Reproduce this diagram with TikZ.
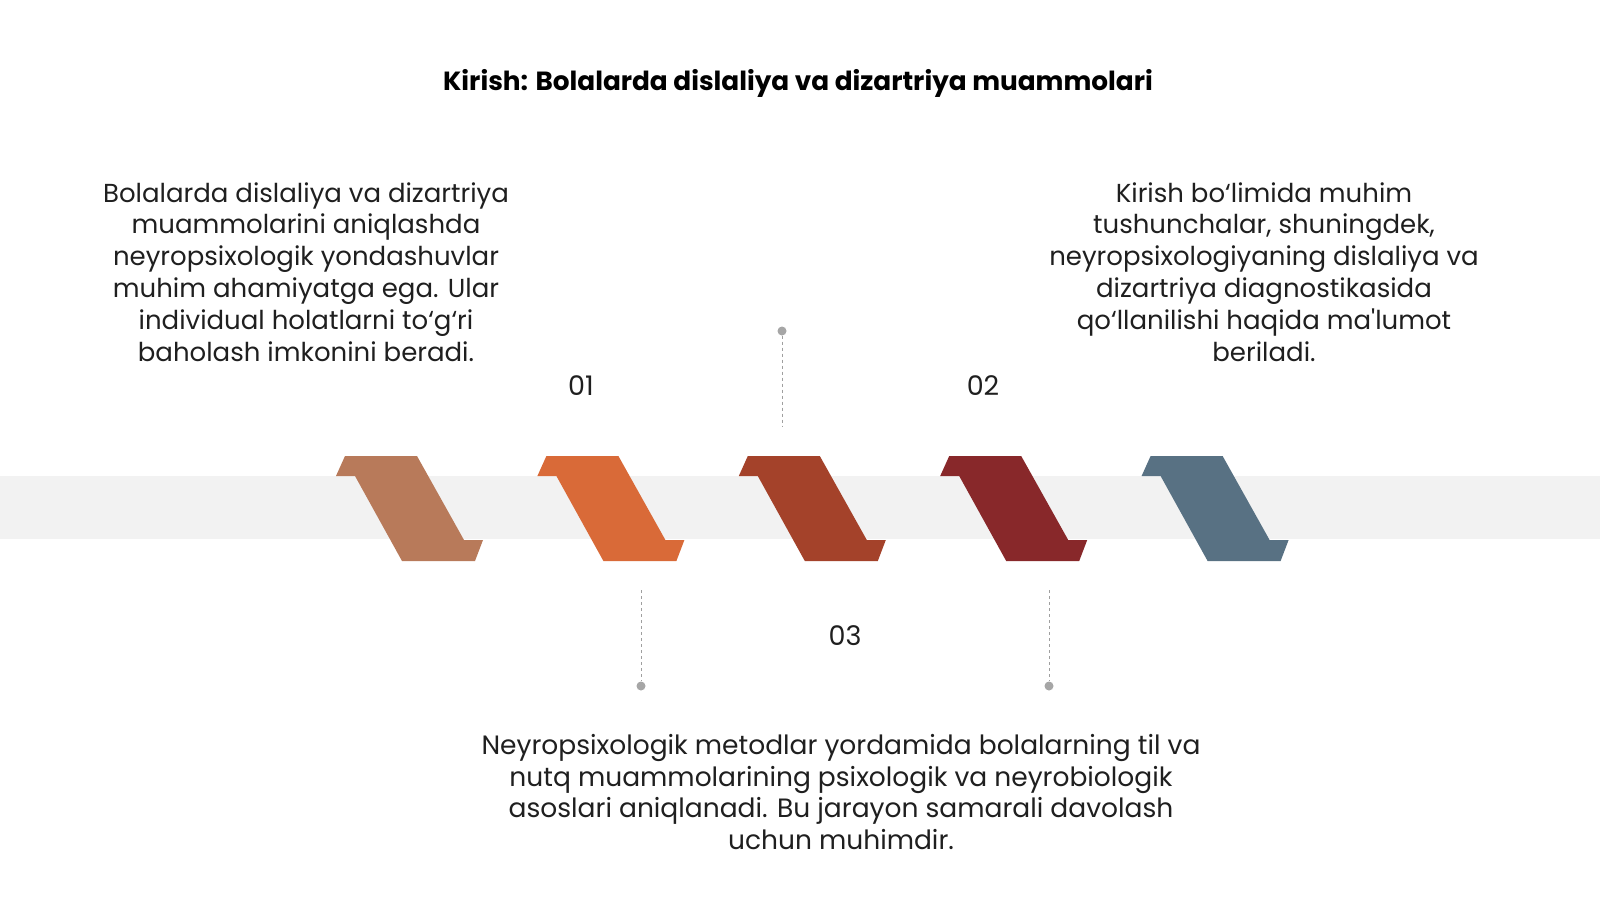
\documentclass[tikz,border=0pt]{standalone}
\usepackage{fontspec}
\setmainfont{Poppins}[Ligatures=TeXOff]
\begin{document}
\begin{tikzpicture}[x=1pt,y=-1pt,
  bodytext/.style={align=center,inner sep=0pt,font=\fontsize{26}{31.9}\selectfont,text=black!88},
  numtext/.style={inner sep=0pt,font=\fontsize{27}{30}\selectfont,text=black!88},
  guide/.style={draw=gray!75,dashed,dash pattern=on 3pt off 3pt,line width=1pt},
  dotmark/.style={circle,fill=gray!70,inner sep=0pt,minimum size=9pt}]
\useasboundingbox (0,0) rectangle (1600,900);
\fill[white] (0,0) rectangle (1600,900);
% band
\fill[black!5] (0,476) rectangle (1600,539);
% chevron shapes
\definecolor{cA}{HTML}{B87A5A}
\definecolor{cB}{HTML}{D96A38}
\definecolor{cC}{HTML}{A4422A}
\definecolor{cD}{HTML}{88282A}
\definecolor{cE}{HTML}{587183}
\foreach \i/\c in {0/cA,1/cB,2/cC,3/cD,4/cE}{
  \fill[\c, shift={(336+201.4*\i,0)}]
    (9,456) -- (0,476) -- (19,476) -- (66,561) -- (139,561) -- (147,540) -- (128,540) -- (81,456) -- cycle;
}
% title
\node[inner sep=0pt,font=\fontsize{26.3}{30}\selectfont\bfseries] (title) at (798,83) {Kirish: Bolalarda dislaliya va dizartriya muammolari};
% text blocks
\node[bodytext] (left) at (306,272) {Bolalarda dislaliya va dizartriya\\muammolarini aniqlashda\\neyropsixologik yondashuvlar\\muhim ahamiyatga ega. Ular\\individual holatlarni to‘g‘ri\\baholash imkonini beradi.};
\node[bodytext] (right) at (1264,272) {Kirish bo‘limida muhim\\tushunchalar, shuningdek,\\neyropsixologiyaning dislaliya va\\dizartriya diagnostikasida\\qo‘llanilishi haqida ma'lumot\\beriladi.};
\node[bodytext,font=\fontsize{26.5}{31.9}\selectfont] (bottom) at (841,792) {Neyropsixologik metodlar yordamida bolalarning til va\\nutq muammolarining psixologik va neyrobiologik\\asoslari aniqlanadi. Bu jarayon samarali davolash\\uchun muhimdir.};
% numbers
\node[numtext] (n1) at (581,386) {01};
\node[numtext] (n2) at (983,386) {02};
\node[numtext] (n3) at (845,636) {03};
% guides
\node[dotmark] (d2) at (782,331) {};
\coordinate (e2) at (782,427);
\draw[guide] (d2) -- (e2);
\node[dotmark] (d1) at (641,686) {};
\coordinate (e1) at (641,590);
\draw[guide] (e1) -- (d1);
\node[dotmark] (d3) at (1049,686) {};
\coordinate (e3) at (1049,590);
\draw[guide] (e3) -- (d3);
\end{tikzpicture}
\end{document}
